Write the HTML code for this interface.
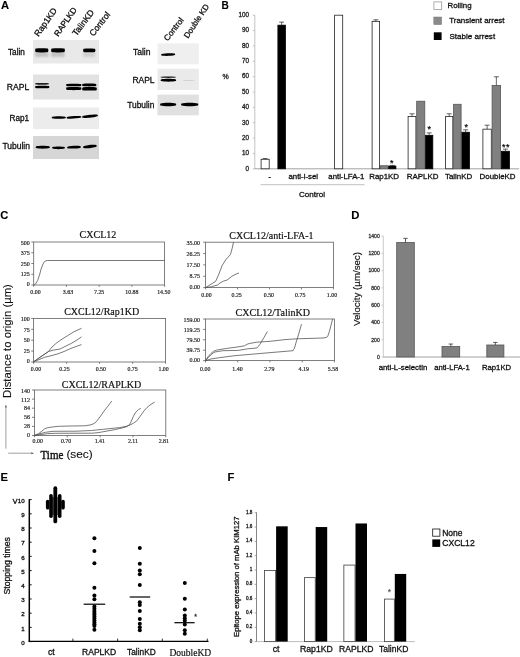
<!DOCTYPE html>
<html><head><meta charset="utf-8"><title>Figure</title>
<style>
html,body{margin:0;padding:0;background:#fff;}
svg{display:block;}
.ss{font-family:"Liberation Sans", sans-serif;}
.sf{font-family:"Liberation Serif", serif;}
</style></head>
<body>
<svg width="520" height="657" viewBox="0 0 520 657">
<defs>
<filter id="b1" x="-20%" y="-100%" width="140%" height="300%"><feGaussianBlur stdDeviation="0.55"/></filter>
<filter id="b2" x="-20%" y="-100%" width="140%" height="300%"><feGaussianBlur stdDeviation="1.2"/></filter>
</defs>
<rect x="0" y="0" width="520" height="657" fill="#fff"/>
<text class="ss" x="0.9" y="8.9" font-size="11.2" text-anchor="start" fill="#000" font-weight="bold" stroke="#000" stroke-width="0.1">A</text>
<text class="ss" x="221.4" y="8.7" font-size="10.1" text-anchor="start" fill="#000" font-weight="bold" stroke="#000" stroke-width="0.1">B</text>
<text class="ss" x="0.2" y="219.4" font-size="11.2" text-anchor="start" fill="#000" font-weight="bold" stroke="#000" stroke-width="0.1">C</text>
<text class="ss" x="351.3" y="218.9" font-size="11.3" text-anchor="start" fill="#000" font-weight="bold" stroke="#000" stroke-width="0.1">D</text>
<text class="ss" x="0.5" y="480.8" font-size="11.2" text-anchor="start" fill="#000" font-weight="bold" stroke="#000" stroke-width="0.1">E</text>
<text class="ss" x="227.4" y="480.8" font-size="11.2" text-anchor="start" fill="#000" font-weight="bold" stroke="#000" stroke-width="0.1">F</text>
<rect x="33.00" y="40.00" width="66.00" height="23.50" fill="#e9e9e9" stroke="none" stroke-width="1"/>
<rect x="33.00" y="74.50" width="66.00" height="25.00" fill="#e2e2e2" stroke="none" stroke-width="1"/>
<rect x="33.00" y="107.50" width="66.00" height="21.50" fill="#ececec" stroke="none" stroke-width="1"/>
<rect x="33.00" y="136.00" width="66.00" height="23.00" fill="#d6d6d6" stroke="none" stroke-width="1"/>
<path d="M35.50,48.60 C38.25,48.06 45.25,48.06 48.00,48.60 Q48.90,50.30 48.00,52.00 C45.25,52.54 38.25,52.54 35.50,52.00 Q34.60,50.30 35.50,48.60 Z" fill="#000" opacity="1" filter="url(#b1)"/>
<path d="M51.50,48.60 C54.36,48.06 61.64,48.06 64.50,48.60 Q65.40,50.30 64.50,52.00 C61.64,52.54 54.36,52.54 51.50,52.00 Q50.60,50.30 51.50,48.60 Z" fill="#000" opacity="1" filter="url(#b1)"/>
<path d="M83.50,48.83 C86.03,48.33 92.47,48.33 95.00,48.83 Q95.90,50.40 95.00,51.97 C92.47,52.47 86.03,52.47 83.50,51.97 Q82.60,50.40 83.50,48.83 Z" fill="#000" opacity="1" filter="url(#b1)"/>
<rect x="35.00" y="51.50" width="13.50" height="5.50" fill="#000" stroke="none" stroke-width="1" opacity="0.16" filter="url(#b2)"/>
<rect x="51.00" y="51.50" width="13.50" height="5.50" fill="#000" stroke="none" stroke-width="1" opacity="0.16" filter="url(#b2)"/>
<rect x="83.00" y="52.00" width="12.00" height="5.00" fill="#000" stroke="none" stroke-width="1" opacity="0.10" filter="url(#b2)"/>
<path d="M35.50,83.16 C38.36,82.90 45.64,82.90 48.50,83.16 Q49.40,83.80 48.50,84.44 C45.64,84.70 38.36,84.70 35.50,84.44 Q34.60,83.80 35.50,83.16 Z" fill="#000" opacity="0.85" filter="url(#b1)"/>
<path d="M35.50,85.96 C38.47,85.54 46.03,85.54 49.00,85.96 Q49.90,87.00 49.00,88.04 C46.03,88.46 38.47,88.46 35.50,88.04 Q34.60,87.00 35.50,85.96 Z" fill="#000" opacity="1" filter="url(#b1)"/>
<path d="M66.50,84.00 C69.69,83.60 77.81,83.60 81.00,84.00 Q81.90,85.00 81.00,86.00 C77.81,86.40 69.69,86.40 66.50,86.00 Q65.60,85.00 66.50,84.00 Z" fill="#000" opacity="1" filter="url(#b1)"/>
<path d="M66.50,87.36 C69.69,86.86 77.81,86.86 81.00,87.36 Q81.90,88.60 81.00,89.84 C77.81,90.34 69.69,90.34 66.50,89.84 Q65.60,88.60 66.50,87.36 Z" fill="#000" opacity="1" filter="url(#b1)"/>
<path d="M82.50,83.92 C85.47,83.49 93.03,83.49 96.00,83.92 Q96.90,85.00 96.00,86.08 C93.03,86.51 85.47,86.51 82.50,86.08 Q81.60,85.00 82.50,83.92 Z" fill="#000" opacity="1" filter="url(#b1)"/>
<path d="M82.50,87.40 C85.58,86.84 93.42,86.84 96.50,87.40 Q97.40,88.80 96.50,90.20 C93.42,90.76 85.58,90.76 82.50,90.20 Q81.60,88.80 82.50,87.40 Z" fill="#000" opacity="1" filter="url(#b1)"/>
<path d="M52.00,116.88 C54.97,116.14 62.53,116.14 65.50,116.88 Q66.40,117.60 65.50,118.31 C62.53,119.06 54.97,119.06 52.00,118.31 Q51.10,117.60 52.00,116.88 Z" fill="#000" opacity="1" filter="url(#b1)"/>
<path d="M67.00,116.98 C70.08,116.07 77.92,115.62 81.00,116.18 Q81.90,116.90 81.00,117.61 C77.92,118.53 70.08,118.98 67.00,118.42 Q66.10,117.70 67.00,116.98 Z" fill="#000" opacity="1" filter="url(#b1)"/>
<path d="M82.50,116.33 C85.80,115.18 94.20,114.28 97.50,114.73 Q98.40,115.50 97.50,116.27 C94.20,117.42 85.80,118.32 82.50,117.87 Q81.60,117.10 82.50,116.33 Z" fill="#000" opacity="1" filter="url(#b1)"/>
<path d="M36.00,146.48 C38.97,145.62 46.53,145.62 49.50,146.48 Q50.40,147.30 49.50,148.12 C46.53,148.98 38.97,148.98 36.00,148.12 Q35.10,147.30 36.00,146.48 Z" fill="#000" opacity="1" filter="url(#b1)"/>
<path d="M52.50,147.03 C55.14,146.23 61.86,146.23 64.50,147.03 Q65.40,147.80 64.50,148.57 C61.86,149.37 55.14,149.37 52.50,148.57 Q51.60,147.80 52.50,147.03 Z" fill="#000" opacity="1" filter="url(#b1)"/>
<path d="M67.50,146.73 C70.36,145.80 77.64,145.46 80.50,146.13 Q81.40,146.90 80.50,147.67 C77.64,148.60 70.36,148.94 67.50,148.27 Q66.60,147.50 67.50,146.73 Z" fill="#000" opacity="1" filter="url(#b1)"/>
<path d="M83.50,146.14 C86.32,144.88 93.48,144.20 96.30,144.94 Q97.20,145.90 96.30,146.86 C93.48,148.12 86.32,148.80 83.50,148.06 Q82.60,147.10 83.50,146.14 Z" fill="#000" opacity="1" filter="url(#b1)"/>
<text class="ss" x="8" y="55" font-size="8.2" text-anchor="start" fill="#111" stroke="#111" stroke-width="0.3">Talin</text>
<text class="ss" x="6.8" y="89.6" font-size="8.6" text-anchor="start" fill="#111" stroke="#111" stroke-width="0.3">RAPL</text>
<text class="ss" x="9.5" y="120.6" font-size="8.2" text-anchor="start" fill="#111" stroke="#111" stroke-width="0.3">Rap1</text>
<text class="ss" x="2.4" y="149.3" font-size="8.5" text-anchor="start" fill="#111" stroke="#111" stroke-width="0.3">Tubulin</text>
<text class="ss" x="38.6" y="37" font-size="8.6" text-anchor="start" fill="#111" transform="rotate(-55 38.6 37)" stroke="#111" stroke-width="0.3">Rap1KD</text>
<text class="ss" x="58.2" y="37" font-size="8.3" text-anchor="start" fill="#111" transform="rotate(-55 58.2 37)" stroke="#111" stroke-width="0.3">RAPLKD</text>
<text class="ss" x="76.5" y="36.5" font-size="8.7" text-anchor="start" fill="#111" transform="rotate(-53 76.5 36.5)" stroke="#111" stroke-width="0.3">TalinKD</text>
<text class="ss" x="93.5" y="36.8" font-size="8.7" text-anchor="start" fill="#111" transform="rotate(-52 93.5 36.8)" stroke="#111" stroke-width="0.3">Control</text>
<rect x="157.50" y="43.30" width="41.30" height="21.00" fill="#efefef" stroke="none" stroke-width="1"/>
<rect x="157.50" y="68.70" width="41.30" height="21.30" fill="#eaeaea" stroke="none" stroke-width="1"/>
<rect x="157.50" y="94.60" width="41.30" height="20.80" fill="#e0e0e0" stroke="none" stroke-width="1"/>
<path d="M161.50,54.08 C164.43,53.17 171.87,52.89 174.80,53.58 Q175.70,54.35 174.80,55.12 C171.87,56.03 164.43,56.31 161.50,55.62 Q160.60,54.85 161.50,54.08 Z" fill="#000" opacity="1" filter="url(#b1)"/>
<path d="M161.00,76.79 C164.19,76.36 172.31,76.36 175.50,76.79 Q176.40,77.20 175.50,77.61 C172.31,78.04 164.19,78.04 161.00,77.61 Q160.10,77.20 161.00,76.79 Z" fill="#000" opacity="0.9" filter="url(#b1)"/>
<path d="M161.00,79.38 C164.26,78.52 172.54,78.52 175.80,79.38 Q176.70,80.20 175.80,81.03 C172.54,81.88 164.26,81.88 161.00,81.03 Q160.10,80.20 161.00,79.38 Z" fill="#000" opacity="1" filter="url(#b1)"/>
<path d="M183.50,80.32 C185.81,80.04 191.69,80.04 194.00,80.32 Q194.90,80.60 194.00,80.88 C191.69,81.16 185.81,81.16 183.50,80.88 Q182.60,80.60 183.50,80.32 Z" fill="#000" opacity="0.1" filter="url(#b1)"/>
<path d="M160.50,103.61 C163.87,102.58 172.43,102.58 175.80,103.61 Q176.70,104.60 175.80,105.59 C172.43,106.62 163.87,106.62 160.50,105.59 Q159.60,104.60 160.50,103.61 Z" fill="#000" opacity="1" filter="url(#b1)"/>
<path d="M181.50,103.61 C185.11,102.58 194.29,102.58 197.90,103.61 Q198.80,104.60 197.90,105.59 C194.29,106.62 185.11,106.62 181.50,105.59 Q180.60,104.60 181.50,103.61 Z" fill="#000" opacity="1" filter="url(#b1)"/>
<text class="ss" x="133" y="54.8" font-size="8.5" text-anchor="start" fill="#111" stroke="#111" stroke-width="0.3">Talin</text>
<text class="ss" x="132.4" y="83" font-size="8.5" text-anchor="start" fill="#111" stroke="#111" stroke-width="0.3">RAPL</text>
<text class="ss" x="127.2" y="107.6" font-size="8.4" text-anchor="start" fill="#111" stroke="#111" stroke-width="0.3">Tubulin</text>
<text class="ss" x="167.8" y="41.5" font-size="8.3" text-anchor="start" fill="#111" transform="rotate(-52.5 167.8 41.5)" stroke="#111" stroke-width="0.3">Control</text>
<text class="ss" x="188" y="38.8" font-size="8.0" text-anchor="start" fill="#111" transform="rotate(-56.5 188 38.8)" stroke="#111" stroke-width="0.3">Double KD</text>
<line x1="254.80" y1="15.00" x2="254.80" y2="168.80" stroke="#b4b4b4" stroke-width="0.8"/>
<line x1="252.80" y1="168.80" x2="254.80" y2="168.80" stroke="#b4b4b4" stroke-width="0.8"/>
<text class="ss" x="249.0" y="170.60000000000002" font-size="6.3" text-anchor="end" fill="#222" stroke="#222" stroke-width="0.3">0</text>
<line x1="252.80" y1="153.44" x2="254.80" y2="153.44" stroke="#b4b4b4" stroke-width="0.8"/>
<text class="ss" x="249.0" y="155.24" font-size="6.3" text-anchor="end" fill="#222" stroke="#222" stroke-width="0.3">10</text>
<line x1="252.80" y1="138.08" x2="254.80" y2="138.08" stroke="#b4b4b4" stroke-width="0.8"/>
<text class="ss" x="249.0" y="139.88000000000002" font-size="6.3" text-anchor="end" fill="#222" stroke="#222" stroke-width="0.3">20</text>
<line x1="252.80" y1="122.72" x2="254.80" y2="122.72" stroke="#b4b4b4" stroke-width="0.8"/>
<text class="ss" x="249.0" y="124.52000000000001" font-size="6.3" text-anchor="end" fill="#222" stroke="#222" stroke-width="0.3">30</text>
<line x1="252.80" y1="107.36" x2="254.80" y2="107.36" stroke="#b4b4b4" stroke-width="0.8"/>
<text class="ss" x="249.0" y="109.16000000000001" font-size="6.3" text-anchor="end" fill="#222" stroke="#222" stroke-width="0.3">40</text>
<line x1="252.80" y1="92.00" x2="254.80" y2="92.00" stroke="#b4b4b4" stroke-width="0.8"/>
<text class="ss" x="249.0" y="93.80000000000001" font-size="6.3" text-anchor="end" fill="#222" stroke="#222" stroke-width="0.3">50</text>
<line x1="252.80" y1="76.64" x2="254.80" y2="76.64" stroke="#b4b4b4" stroke-width="0.8"/>
<text class="ss" x="249.0" y="78.44000000000001" font-size="6.3" text-anchor="end" fill="#222" stroke="#222" stroke-width="0.3">60</text>
<line x1="252.80" y1="61.28" x2="254.80" y2="61.28" stroke="#b4b4b4" stroke-width="0.8"/>
<text class="ss" x="249.0" y="63.08000000000001" font-size="6.3" text-anchor="end" fill="#222" stroke="#222" stroke-width="0.3">70</text>
<line x1="252.80" y1="45.92" x2="254.80" y2="45.92" stroke="#b4b4b4" stroke-width="0.8"/>
<text class="ss" x="249.0" y="47.72000000000001" font-size="6.3" text-anchor="end" fill="#222" stroke="#222" stroke-width="0.3">80</text>
<line x1="252.80" y1="30.56" x2="254.80" y2="30.56" stroke="#b4b4b4" stroke-width="0.8"/>
<text class="ss" x="249.0" y="32.36" font-size="6.3" text-anchor="end" fill="#222" stroke="#222" stroke-width="0.3">90</text>
<line x1="252.80" y1="15.20" x2="254.80" y2="15.20" stroke="#b4b4b4" stroke-width="0.8"/>
<text class="ss" x="249.0" y="17.000000000000018" font-size="6.3" text-anchor="end" fill="#222" stroke="#222" stroke-width="0.3">100</text>
<text class="ss" x="222.4" y="78.7" font-size="7" text-anchor="start" fill="#222" stroke="#222" stroke-width="0.3">%</text>
<line x1="254.80" y1="168.80" x2="519.00" y2="168.80" stroke="#8a8a8a" stroke-width="0.8"/>
<rect x="261.10" y="159.28" width="8.10" height="9.52" fill="#fff" stroke="#222" stroke-width="0.8"/>
<line x1="265.15" y1="159.28" x2="265.15" y2="158.51" stroke="#222" stroke-width="0.7"/>
<line x1="262.65" y1="158.51" x2="267.65" y2="158.51" stroke="#222" stroke-width="0.7"/>
<rect x="277.90" y="25.18" width="7.50" height="143.62" fill="#000" stroke="#000" stroke-width="0.8"/>
<line x1="281.65" y1="25.18" x2="281.65" y2="22.11" stroke="#222" stroke-width="0.7"/>
<line x1="279.15" y1="22.11" x2="284.15" y2="22.11" stroke="#222" stroke-width="0.7"/>
<rect x="334.60" y="15.20" width="8.10" height="153.60" fill="#fff" stroke="#222" stroke-width="0.8"/>
<rect x="372.10" y="21.34" width="7.50" height="147.46" fill="#fff" stroke="#222" stroke-width="0.8"/>
<line x1="375.85" y1="21.34" x2="375.85" y2="19.81" stroke="#222" stroke-width="0.7"/>
<line x1="373.35" y1="19.81" x2="378.35" y2="19.81" stroke="#222" stroke-width="0.7"/>
<rect x="380.40" y="165.73" width="7.50" height="3.07" fill="#808080" stroke="#555" stroke-width="0.8"/>
<rect x="388.70" y="166.04" width="7.20" height="2.76" fill="#000" stroke="#000" stroke-width="0.8"/>
<line x1="392.30" y1="166.04" x2="392.30" y2="165.42" stroke="#222" stroke-width="0.7"/>
<line x1="389.80" y1="165.42" x2="394.80" y2="165.42" stroke="#222" stroke-width="0.7"/>
<rect x="408.10" y="116.58" width="7.80" height="52.22" fill="#fff" stroke="#222" stroke-width="0.8"/>
<line x1="412.00" y1="116.58" x2="412.00" y2="113.81" stroke="#222" stroke-width="0.7"/>
<line x1="409.50" y1="113.81" x2="414.50" y2="113.81" stroke="#222" stroke-width="0.7"/>
<rect x="416.70" y="101.22" width="8.10" height="67.58" fill="#808080" stroke="#555" stroke-width="0.8"/>
<rect x="425.60" y="135.32" width="7.20" height="33.48" fill="#000" stroke="#000" stroke-width="0.8"/>
<line x1="429.20" y1="135.32" x2="429.20" y2="132.86" stroke="#222" stroke-width="0.7"/>
<line x1="426.70" y1="132.86" x2="431.70" y2="132.86" stroke="#222" stroke-width="0.7"/>
<rect x="445.60" y="116.58" width="7.20" height="52.22" fill="#fff" stroke="#222" stroke-width="0.8"/>
<line x1="449.20" y1="116.58" x2="449.20" y2="113.81" stroke="#222" stroke-width="0.7"/>
<line x1="446.70" y1="113.81" x2="451.70" y2="113.81" stroke="#222" stroke-width="0.7"/>
<rect x="453.60" y="104.29" width="7.50" height="64.51" fill="#808080" stroke="#555" stroke-width="0.8"/>
<rect x="461.90" y="132.24" width="7.50" height="36.56" fill="#000" stroke="#000" stroke-width="0.8"/>
<line x1="465.65" y1="132.24" x2="465.65" y2="129.79" stroke="#222" stroke-width="0.7"/>
<line x1="463.15" y1="129.79" x2="468.15" y2="129.79" stroke="#222" stroke-width="0.7"/>
<rect x="482.90" y="129.17" width="8.40" height="39.63" fill="#fff" stroke="#222" stroke-width="0.8"/>
<line x1="487.10" y1="129.17" x2="487.10" y2="125.18" stroke="#222" stroke-width="0.7"/>
<line x1="484.60" y1="125.18" x2="489.60" y2="125.18" stroke="#222" stroke-width="0.7"/>
<rect x="492.10" y="85.40" width="8.50" height="83.40" fill="#808080" stroke="#555" stroke-width="0.8"/>
<line x1="496.35" y1="85.40" x2="496.35" y2="76.79" stroke="#222" stroke-width="0.7"/>
<line x1="493.85" y1="76.79" x2="498.85" y2="76.79" stroke="#222" stroke-width="0.7"/>
<rect x="501.40" y="151.29" width="8.00" height="17.51" fill="#000" stroke="#000" stroke-width="0.8"/>
<line x1="505.40" y1="151.29" x2="505.40" y2="149.14" stroke="#222" stroke-width="0.7"/>
<line x1="502.90" y1="149.14" x2="507.90" y2="149.14" stroke="#222" stroke-width="0.7"/>
<text class="ss" x="391.8" y="166.0" font-size="9" text-anchor="middle" fill="#000" stroke="#000" stroke-width="0.2">*</text>
<text class="ss" x="429.2" y="132.3" font-size="9" text-anchor="middle" fill="#000" stroke="#000" stroke-width="0.2">*</text>
<text class="ss" x="466.2" y="130.2" font-size="9" text-anchor="middle" fill="#000" stroke="#000" stroke-width="0.2">*</text>
<text class="ss" x="503.8" y="150.2" font-size="9" text-anchor="middle" fill="#000" stroke="#000" stroke-width="0.2">*</text>
<text class="ss" x="507.8" y="150.2" font-size="9" text-anchor="middle" fill="#000" stroke="#000" stroke-width="0.2">*</text>
<text class="ss" x="269.6" y="179" font-size="7" text-anchor="middle" fill="#111" font-weight="bold" stroke="#111" stroke-width="0.3">-</text>
<text class="ss" x="288.5" y="179.4" font-size="7.8" text-anchor="start" fill="#111" stroke="#111" stroke-width="0.3">anti-l-sel</text>
<text class="ss" x="328.3" y="179.4" font-size="7.8" text-anchor="start" fill="#111" stroke="#111" stroke-width="0.3">anti-LFA-1</text>
<text class="ss" x="369.2" y="179.4" font-size="7.9" text-anchor="start" fill="#111" stroke="#111" stroke-width="0.3">Rap1KD</text>
<text class="ss" x="406.8" y="179.4" font-size="7.9" text-anchor="start" fill="#111" stroke="#111" stroke-width="0.3">RAPLKD</text>
<text class="ss" x="445" y="179.4" font-size="7.9" text-anchor="start" fill="#111" stroke="#111" stroke-width="0.3">TalinKD</text>
<text class="ss" x="479.6" y="179.4" font-size="7.9" text-anchor="start" fill="#111" stroke="#111" stroke-width="0.3">DoubleKD</text>
<line x1="260.50" y1="184.70" x2="364.50" y2="184.70" stroke="#b0b0b0" stroke-width="0.8"/>
<text class="ss" x="298.9" y="197" font-size="8.1" text-anchor="start" fill="#111" stroke="#111" stroke-width="0.3">Control</text>
<rect x="433.90" y="1.90" width="7.80" height="7.60" fill="#fff" stroke="#999" stroke-width="0.8"/>
<rect x="433.80" y="17.00" width="7.80" height="7.60" fill="#8a8a8a" stroke="#777" stroke-width="0.5"/>
<rect x="433.80" y="32.30" width="7.80" height="7.70" fill="#000" stroke="none" stroke-width="1"/>
<text class="ss" x="447.5" y="8.2" font-size="7.9" text-anchor="start" fill="#111" stroke="#111" stroke-width="0.3">Rolling</text>
<text class="ss" x="449.2" y="22.9" font-size="7.95" text-anchor="start" fill="#111" stroke="#111" stroke-width="0.3">Transient arrest</text>
<text class="ss" x="449.5" y="38.9" font-size="8.05" text-anchor="start" fill="#111" stroke="#111" stroke-width="0.3">Stable arrest</text>
<rect x="33.70" y="242.00" width="130.90" height="43.00" fill="none" stroke="#606060" stroke-width="0.8"/>
<line x1="31.30" y1="242.00" x2="33.70" y2="242.00" stroke="#606060" stroke-width="0.8"/>
<text class="sf" x="29.800000000000004" y="244.7525" font-size="6.0" text-anchor="end" fill="#222" stroke="#222" stroke-width="0.18">500</text>
<line x1="31.30" y1="252.75" x2="33.70" y2="252.75" stroke="#606060" stroke-width="0.8"/>
<text class="sf" x="29.800000000000004" y="255.12625" font-size="6.0" text-anchor="end" fill="#222" stroke="#222" stroke-width="0.18">375</text>
<line x1="31.30" y1="263.50" x2="33.70" y2="263.50" stroke="#606060" stroke-width="0.8"/>
<text class="sf" x="29.800000000000004" y="265.5" font-size="6.0" text-anchor="end" fill="#222" stroke="#222" stroke-width="0.18">250</text>
<line x1="31.30" y1="274.25" x2="33.70" y2="274.25" stroke="#606060" stroke-width="0.8"/>
<text class="sf" x="29.800000000000004" y="275.87375" font-size="6.0" text-anchor="end" fill="#222" stroke="#222" stroke-width="0.18">125</text>
<line x1="31.30" y1="285.00" x2="33.70" y2="285.00" stroke="#606060" stroke-width="0.8"/>
<text class="sf" x="29.800000000000004" y="286.2475" font-size="6.0" text-anchor="end" fill="#222" stroke="#222" stroke-width="0.18">0</text>
<line x1="33.70" y1="285.00" x2="33.70" y2="286.80" stroke="#606060" stroke-width="0.8"/>
<text class="sf" x="35.50000000000001" y="293.8" font-size="5.9" text-anchor="middle" fill="#222" stroke="#222" stroke-width="0.18">0.00</text>
<line x1="66.42" y1="285.00" x2="66.42" y2="286.80" stroke="#606060" stroke-width="0.8"/>
<text class="sf" x="68.02499999999999" y="293.8" font-size="5.9" text-anchor="middle" fill="#222" stroke="#222" stroke-width="0.18">3.63</text>
<line x1="99.15" y1="285.00" x2="99.15" y2="286.80" stroke="#606060" stroke-width="0.8"/>
<text class="sf" x="99.14999999999999" y="293.8" font-size="5.9" text-anchor="middle" fill="#222" stroke="#222" stroke-width="0.18">7.25</text>
<line x1="131.88" y1="285.00" x2="131.88" y2="286.80" stroke="#606060" stroke-width="0.8"/>
<text class="sf" x="131.875" y="293.8" font-size="5.9" text-anchor="middle" fill="#222" stroke="#222" stroke-width="0.18">10.88</text>
<line x1="164.60" y1="285.00" x2="164.60" y2="286.80" stroke="#606060" stroke-width="0.8"/>
<text class="sf" x="163.79999999999995" y="293.8" font-size="5.9" text-anchor="middle" fill="#222" stroke="#222" stroke-width="0.18">14.50</text>
<text class="sf" x="79.6" y="238.2" font-size="10" text-anchor="start" fill="#111" stroke="#111" stroke-width="0.18">CXCL12</text>
<polyline points="33.7,285.0 35.5,284.0 37.7,280.4 39.5,275.0 41.1,269.0 43.0,264.0 44.6,261.5 46.0,260.7 47.2,260.5 164.6,260.5" fill="none" stroke="#4c4c4c" stroke-width="0.75" stroke-linejoin="round"/>
<rect x="205.60" y="242.20" width="127.80" height="45.40" fill="none" stroke="#606060" stroke-width="0.8"/>
<line x1="203.20" y1="242.20" x2="205.60" y2="242.20" stroke="#606060" stroke-width="0.8"/>
<text class="sf" x="200.1" y="244.9945" font-size="6.0" text-anchor="end" fill="#222" stroke="#222" stroke-width="0.18">35.00</text>
<line x1="203.20" y1="253.55" x2="205.60" y2="253.55" stroke="#606060" stroke-width="0.8"/>
<text class="sf" x="200.1" y="255.94725" font-size="6.0" text-anchor="end" fill="#222" stroke="#222" stroke-width="0.18">26.25</text>
<line x1="203.20" y1="264.90" x2="205.60" y2="264.90" stroke="#606060" stroke-width="0.8"/>
<text class="sf" x="200.1" y="266.9" font-size="6.0" text-anchor="end" fill="#222" stroke="#222" stroke-width="0.18">17.50</text>
<line x1="203.20" y1="276.25" x2="205.60" y2="276.25" stroke="#606060" stroke-width="0.8"/>
<text class="sf" x="200.1" y="277.85275" font-size="6.0" text-anchor="end" fill="#222" stroke="#222" stroke-width="0.18">8.75</text>
<line x1="203.20" y1="287.60" x2="205.60" y2="287.60" stroke="#606060" stroke-width="0.8"/>
<text class="sf" x="200.1" y="288.8055" font-size="6.0" text-anchor="end" fill="#222" stroke="#222" stroke-width="0.18">0.00</text>
<line x1="205.60" y1="287.60" x2="205.60" y2="289.40" stroke="#606060" stroke-width="0.8"/>
<text class="sf" x="206.49999999999997" y="296.70000000000005" font-size="5.9" text-anchor="middle" fill="#222" stroke="#222" stroke-width="0.18">0.00</text>
<line x1="237.55" y1="287.60" x2="237.55" y2="289.40" stroke="#606060" stroke-width="0.8"/>
<text class="sf" x="236.64999999999998" y="296.70000000000005" font-size="5.9" text-anchor="middle" fill="#222" stroke="#222" stroke-width="0.18">0.25</text>
<line x1="269.50" y1="287.60" x2="269.50" y2="289.40" stroke="#606060" stroke-width="0.8"/>
<text class="sf" x="268.9" y="296.70000000000005" font-size="5.9" text-anchor="middle" fill="#222" stroke="#222" stroke-width="0.18">0.50</text>
<line x1="301.45" y1="287.60" x2="301.45" y2="289.40" stroke="#606060" stroke-width="0.8"/>
<text class="sf" x="300.25" y="296.70000000000005" font-size="5.9" text-anchor="middle" fill="#222" stroke="#222" stroke-width="0.18">0.75</text>
<line x1="333.40" y1="287.60" x2="333.40" y2="289.40" stroke="#606060" stroke-width="0.8"/>
<text class="sf" x="332.0" y="296.70000000000005" font-size="5.9" text-anchor="middle" fill="#222" stroke="#222" stroke-width="0.18">1.00</text>
<text class="sf" x="229.3" y="239.3" font-size="10" text-anchor="start" fill="#111" stroke="#111" stroke-width="0.18">CXCL12/anti-LFA-1</text>
<polyline points="205.6,287.6 215.6,281.4 218.5,275.0 222.3,265.2 226.0,259.5 230.4,254.6 232.0,249.0 233.5,242.2" fill="none" stroke="#4c4c4c" stroke-width="0.75" stroke-linejoin="round"/>
<polyline points="205.6,287.6 211.0,286.8 217.5,285.0 220.0,283.0 223.3,281.2 227.1,280.0 231.9,276.3 235.0,274.6 239.0,272.9" fill="none" stroke="#4c4c4c" stroke-width="0.75" stroke-linejoin="round"/>
<rect x="33.60" y="318.40" width="132.00" height="43.60" fill="none" stroke="#606060" stroke-width="0.8"/>
<line x1="31.20" y1="318.40" x2="33.60" y2="318.40" stroke="#606060" stroke-width="0.8"/>
<text class="sf" x="29.700000000000003" y="321.16299999999995" font-size="6.0" text-anchor="end" fill="#222" stroke="#222" stroke-width="0.18">100</text>
<line x1="31.20" y1="329.30" x2="33.60" y2="329.30" stroke="#606060" stroke-width="0.8"/>
<text class="sf" x="29.700000000000003" y="331.68149999999997" font-size="6.0" text-anchor="end" fill="#222" stroke="#222" stroke-width="0.18">75</text>
<line x1="31.20" y1="340.20" x2="33.60" y2="340.20" stroke="#606060" stroke-width="0.8"/>
<text class="sf" x="29.700000000000003" y="342.2" font-size="6.0" text-anchor="end" fill="#222" stroke="#222" stroke-width="0.18">50</text>
<line x1="31.20" y1="351.10" x2="33.60" y2="351.10" stroke="#606060" stroke-width="0.8"/>
<text class="sf" x="29.700000000000003" y="352.7185" font-size="6.0" text-anchor="end" fill="#222" stroke="#222" stroke-width="0.18">25</text>
<line x1="31.20" y1="362.00" x2="33.60" y2="362.00" stroke="#606060" stroke-width="0.8"/>
<text class="sf" x="29.700000000000003" y="363.237" font-size="6.0" text-anchor="end" fill="#222" stroke="#222" stroke-width="0.18">0</text>
<line x1="33.60" y1="362.00" x2="33.60" y2="363.80" stroke="#606060" stroke-width="0.8"/>
<text class="sf" x="36.00000000000001" y="371.3" font-size="5.9" text-anchor="middle" fill="#222" stroke="#222" stroke-width="0.18">0.00</text>
<line x1="66.60" y1="362.00" x2="66.60" y2="363.80" stroke="#606060" stroke-width="0.8"/>
<text class="sf" x="64.5" y="371.3" font-size="5.9" text-anchor="middle" fill="#222" stroke="#222" stroke-width="0.18">0.25</text>
<line x1="99.60" y1="362.00" x2="99.60" y2="363.80" stroke="#606060" stroke-width="0.8"/>
<text class="sf" x="100.8" y="371.3" font-size="5.9" text-anchor="middle" fill="#222" stroke="#222" stroke-width="0.18">0.50</text>
<line x1="132.60" y1="362.00" x2="132.60" y2="363.80" stroke="#606060" stroke-width="0.8"/>
<text class="sf" x="132.6" y="371.3" font-size="5.9" text-anchor="middle" fill="#222" stroke="#222" stroke-width="0.18">0.75</text>
<line x1="165.60" y1="362.00" x2="165.60" y2="363.80" stroke="#606060" stroke-width="0.8"/>
<text class="sf" x="163.6" y="371.3" font-size="5.9" text-anchor="middle" fill="#222" stroke="#222" stroke-width="0.18">1.00</text>
<text class="sf" x="64.2" y="314.5" font-size="10" text-anchor="start" fill="#111" stroke="#111" stroke-width="0.18">CXCL12/Rap1KD</text>
<polyline points="33.6,361.8 41.0,356.6 48.5,351.5 52.0,347.0 56.2,343.3 61.0,339.8 67.7,335.6 74.0,331.7 81.5,328.3" fill="none" stroke="#4c4c4c" stroke-width="0.75" stroke-linejoin="round"/>
<polyline points="33.6,361.8 41.0,356.6 48.5,351.5 54.0,350.0 60.0,349.0 66.0,346.0 71.5,343.3 77.0,340.0 81.5,336.9" fill="none" stroke="#4c4c4c" stroke-width="0.75" stroke-linejoin="round"/>
<polyline points="33.6,361.8 44.6,357.3 52.0,355.5 58.0,353.8 64.0,351.5 69.6,349.0 76.0,346.5 81.5,344.6" fill="none" stroke="#4c4c4c" stroke-width="0.75" stroke-linejoin="round"/>
<rect x="205.50" y="319.00" width="128.90" height="41.60" fill="none" stroke="#606060" stroke-width="0.8"/>
<line x1="203.10" y1="319.00" x2="205.50" y2="319.00" stroke="#606060" stroke-width="0.8"/>
<text class="sf" x="200.1" y="321.728" font-size="6.0" text-anchor="end" fill="#222" stroke="#222" stroke-width="0.18">159.00</text>
<line x1="203.10" y1="329.40" x2="205.50" y2="329.40" stroke="#606060" stroke-width="0.8"/>
<text class="sf" x="200.1" y="331.76399999999995" font-size="6.0" text-anchor="end" fill="#222" stroke="#222" stroke-width="0.18">119.25</text>
<line x1="203.10" y1="339.80" x2="205.50" y2="339.80" stroke="#606060" stroke-width="0.8"/>
<text class="sf" x="200.1" y="341.8" font-size="6.0" text-anchor="end" fill="#222" stroke="#222" stroke-width="0.18">79.50</text>
<line x1="203.10" y1="350.20" x2="205.50" y2="350.20" stroke="#606060" stroke-width="0.8"/>
<text class="sf" x="200.1" y="351.83600000000007" font-size="6.0" text-anchor="end" fill="#222" stroke="#222" stroke-width="0.18">39.75</text>
<line x1="203.10" y1="360.60" x2="205.50" y2="360.60" stroke="#606060" stroke-width="0.8"/>
<text class="sf" x="200.1" y="361.872" font-size="6.0" text-anchor="end" fill="#222" stroke="#222" stroke-width="0.18">0.00</text>
<line x1="205.50" y1="360.60" x2="205.50" y2="362.40" stroke="#606060" stroke-width="0.8"/>
<text class="sf" x="205.2" y="370.50000000000006" font-size="5.9" text-anchor="middle" fill="#222" stroke="#222" stroke-width="0.18">0.00</text>
<line x1="237.72" y1="360.60" x2="237.72" y2="362.40" stroke="#606060" stroke-width="0.8"/>
<text class="sf" x="237.42499999999998" y="370.50000000000006" font-size="5.9" text-anchor="middle" fill="#222" stroke="#222" stroke-width="0.18">1.40</text>
<line x1="269.95" y1="360.60" x2="269.95" y2="362.40" stroke="#606060" stroke-width="0.8"/>
<text class="sf" x="269.34999999999997" y="370.50000000000006" font-size="5.9" text-anchor="middle" fill="#222" stroke="#222" stroke-width="0.18">2.79</text>
<line x1="302.17" y1="360.60" x2="302.17" y2="362.40" stroke="#606060" stroke-width="0.8"/>
<text class="sf" x="303.67499999999995" y="370.50000000000006" font-size="5.9" text-anchor="middle" fill="#222" stroke="#222" stroke-width="0.18">4.19</text>
<line x1="334.40" y1="360.60" x2="334.40" y2="362.40" stroke="#606060" stroke-width="0.8"/>
<text class="sf" x="333.0" y="370.50000000000006" font-size="5.9" text-anchor="middle" fill="#222" stroke="#222" stroke-width="0.18">5.58</text>
<text class="sf" x="235.6" y="315.5" font-size="10" text-anchor="start" fill="#111" stroke="#111" stroke-width="0.18">CXCL12/TalinKD</text>
<polyline points="205.5,360.6 208.0,356.8 210.8,353.5 213.5,351.3 216.9,350.0 226.2,348.5 236.0,347.2 244.6,345.8 247.0,344.3 249.2,343.5 256.9,342.2 270.0,341.3 285.0,339.6 297.0,338.8 323.0,338.0 326.0,337.5 327.7,336.5 329.5,331.0 332.6,319.0" fill="none" stroke="#4c4c4c" stroke-width="0.75" stroke-linejoin="round"/>
<polyline points="205.5,360.6 208.0,357.8 210.8,355.0 213.0,353.0 215.4,351.9 223.0,350.7 238.5,350.4 243.0,349.6 247.7,348.8 256.9,348.0 258.2,346.5 260.0,344.2 264.0,337.5 267.4,331.5" fill="none" stroke="#4c4c4c" stroke-width="0.75" stroke-linejoin="round"/>
<polyline points="205.5,360.6 211.0,359.0 218.5,357.8 233.8,355.8 260.0,353.5 280.0,351.8 293.0,350.7 294.5,348.0 296.2,342.0 299.0,333.0 301.5,324.2" fill="none" stroke="#4c4c4c" stroke-width="0.75" stroke-linejoin="round"/>
<rect x="34.40" y="390.00" width="131.40" height="45.50" fill="none" stroke="#606060" stroke-width="0.8"/>
<line x1="32.00" y1="390.00" x2="34.40" y2="390.00" stroke="#606060" stroke-width="0.8"/>
<text class="sf" x="29.9" y="392.79625" font-size="6.0" text-anchor="end" fill="#222" stroke="#222" stroke-width="0.18">140</text>
<line x1="32.00" y1="399.10" x2="34.40" y2="399.10" stroke="#606060" stroke-width="0.8"/>
<text class="sf" x="29.9" y="401.57775000000004" font-size="6.0" text-anchor="end" fill="#222" stroke="#222" stroke-width="0.18">112</text>
<line x1="32.00" y1="408.20" x2="34.40" y2="408.20" stroke="#606060" stroke-width="0.8"/>
<text class="sf" x="29.9" y="410.35925" font-size="6.0" text-anchor="end" fill="#222" stroke="#222" stroke-width="0.18">84</text>
<line x1="32.00" y1="417.30" x2="34.40" y2="417.30" stroke="#606060" stroke-width="0.8"/>
<text class="sf" x="29.9" y="419.14075" font-size="6.0" text-anchor="end" fill="#222" stroke="#222" stroke-width="0.18">56</text>
<line x1="32.00" y1="426.40" x2="34.40" y2="426.40" stroke="#606060" stroke-width="0.8"/>
<text class="sf" x="29.9" y="427.92224999999996" font-size="6.0" text-anchor="end" fill="#222" stroke="#222" stroke-width="0.18">28</text>
<line x1="32.00" y1="435.50" x2="34.40" y2="435.50" stroke="#606060" stroke-width="0.8"/>
<text class="sf" x="29.9" y="436.70375" font-size="6.0" text-anchor="end" fill="#222" stroke="#222" stroke-width="0.18">0</text>
<line x1="34.40" y1="435.50" x2="34.40" y2="437.30" stroke="#606060" stroke-width="0.8"/>
<text class="sf" x="37.7" y="442.70000000000005" font-size="5.9" text-anchor="middle" fill="#222" stroke="#222" stroke-width="0.18">0.00</text>
<line x1="67.25" y1="435.50" x2="67.25" y2="437.30" stroke="#606060" stroke-width="0.8"/>
<text class="sf" x="66.05" y="442.70000000000005" font-size="5.9" text-anchor="middle" fill="#222" stroke="#222" stroke-width="0.18">0.70</text>
<line x1="100.10" y1="435.50" x2="100.10" y2="437.30" stroke="#606060" stroke-width="0.8"/>
<text class="sf" x="99.8" y="442.70000000000005" font-size="5.9" text-anchor="middle" fill="#222" stroke="#222" stroke-width="0.18">1.41</text>
<line x1="132.95" y1="435.50" x2="132.95" y2="437.30" stroke="#606060" stroke-width="0.8"/>
<text class="sf" x="132.95000000000002" y="442.70000000000005" font-size="5.9" text-anchor="middle" fill="#222" stroke="#222" stroke-width="0.18">2.11</text>
<line x1="165.80" y1="435.50" x2="165.80" y2="437.30" stroke="#606060" stroke-width="0.8"/>
<text class="sf" x="163.8" y="442.70000000000005" font-size="5.9" text-anchor="middle" fill="#222" stroke="#222" stroke-width="0.18">2.81</text>
<text class="sf" x="61.8" y="387.8" font-size="10" text-anchor="start" fill="#111" stroke="#111" stroke-width="0.18">CXCL12/RAPLKD</text>
<polyline points="34.4,435.5 38.5,433.8 42.0,431.0 45.0,428.6 47.3,427.8 52.0,427.0 58.8,426.3 70.0,426.0 84.8,425.8 90.0,425.0 92.8,424.1 94.9,423.0 97.1,420.7 100.7,416.0 104.0,411.1 107.9,406.2 111.8,401.0" fill="none" stroke="#4c4c4c" stroke-width="0.75" stroke-linejoin="round"/>
<polyline points="34.4,435.5 40.0,434.7 47.3,433.7 55.0,433.3 91.5,433.2 98.0,432.7 102.3,431.9 110.0,430.5 114.4,429.7 122.0,428.0 126.5,426.7 128.8,425.3 130.3,423.3 131.8,420.0 133.4,416.3 135.2,413.0 136.9,411.1 138.5,409.6 140.7,408.4" fill="none" stroke="#4c4c4c" stroke-width="0.75" stroke-linejoin="round"/>
<polyline points="34.4,435.5 40.0,433.7 45.4,432.3 53.0,431.3 76.0,431.2 91.5,430.5 102.3,429.4 110.0,428.6 119.6,427.6 126.0,426.4 130.0,425.0 133.5,423.2 136.9,420.7 140.0,416.5 143.8,411.1 147.0,407.5 149.9,405.1 154.7,402.0" fill="none" stroke="#4c4c4c" stroke-width="0.75" stroke-linejoin="round"/>
<text class="ss" x="10.6" y="398" font-size="11.3" text-anchor="start" fill="#111" transform="rotate(-90 10.6 398)" stroke="#111" stroke-width="0.12">Distance to origin (µm)</text>
<line x1="5.90" y1="405.50" x2="5.90" y2="448.70" stroke="#777" stroke-width="0.7"/>
<path d="M4.9,407.5 L5.9,404.8 L6.9,407.5 Z" fill="#666"/>
<line x1="8.20" y1="453.20" x2="32.00" y2="453.20" stroke="#777" stroke-width="0.7"/>
<path d="M31.4,452.2 L34,453.2 L31.4,454.2 Z" fill="#555"/>
<text class="sf" transform="translate(40.5,458.6) scale(0.84,1)" font-size="13.2" fill="#111" stroke="#111" stroke-width="0.4">Time</text>
<text class="ss" x="66.4" y="457.6" font-size="11.8" text-anchor="start" fill="#111" stroke="#111" stroke-width="0.12">(sec)</text>
<line x1="383.30" y1="236.00" x2="383.30" y2="357.00" stroke="#bdbdbd" stroke-width="0.8"/>
<line x1="381.50" y1="357.00" x2="383.30" y2="357.00" stroke="#bdbdbd" stroke-width="0.8"/>
<text class="ss" x="379.7" y="358.8" font-size="5" text-anchor="end" fill="#333" stroke="#333" stroke-width="0.3">0</text>
<line x1="381.50" y1="339.72" x2="383.30" y2="339.72" stroke="#bdbdbd" stroke-width="0.8"/>
<text class="ss" x="379.7" y="341.52000000000004" font-size="5" text-anchor="end" fill="#333" stroke="#333" stroke-width="0.3">200</text>
<line x1="381.50" y1="322.44" x2="383.30" y2="322.44" stroke="#bdbdbd" stroke-width="0.8"/>
<text class="ss" x="379.7" y="324.24" font-size="5" text-anchor="end" fill="#333" stroke="#333" stroke-width="0.3">400</text>
<line x1="381.50" y1="305.16" x2="383.30" y2="305.16" stroke="#bdbdbd" stroke-width="0.8"/>
<text class="ss" x="379.7" y="306.96" font-size="5" text-anchor="end" fill="#333" stroke="#333" stroke-width="0.3">600</text>
<line x1="381.50" y1="287.88" x2="383.30" y2="287.88" stroke="#bdbdbd" stroke-width="0.8"/>
<text class="ss" x="379.7" y="289.68" font-size="5" text-anchor="end" fill="#333" stroke="#333" stroke-width="0.3">800</text>
<line x1="381.50" y1="270.60" x2="383.30" y2="270.60" stroke="#bdbdbd" stroke-width="0.8"/>
<text class="ss" x="379.7" y="272.40000000000003" font-size="5" text-anchor="end" fill="#333" stroke="#333" stroke-width="0.3">1000</text>
<line x1="381.50" y1="253.32" x2="383.30" y2="253.32" stroke="#bdbdbd" stroke-width="0.8"/>
<text class="ss" x="379.7" y="255.12" font-size="5" text-anchor="end" fill="#333" stroke="#333" stroke-width="0.3">1200</text>
<line x1="381.50" y1="236.04" x2="383.30" y2="236.04" stroke="#bdbdbd" stroke-width="0.8"/>
<text class="ss" x="379.7" y="237.84" font-size="5" text-anchor="end" fill="#333" stroke="#333" stroke-width="0.3">1400</text>
<line x1="383.30" y1="357.00" x2="520.00" y2="357.00" stroke="#8a8a8a" stroke-width="0.8"/>
<rect x="396.70" y="242.52" width="17.60" height="114.48" fill="#808080" stroke="#555" stroke-width="0.8"/>
<line x1="405.50" y1="242.52" x2="405.50" y2="238.37" stroke="#333" stroke-width="0.8"/>
<line x1="403.30" y1="238.37" x2="407.70" y2="238.37" stroke="#333" stroke-width="0.8"/>
<rect x="442.00" y="346.46" width="17.70" height="10.54" fill="#808080" stroke="#555" stroke-width="0.8"/>
<line x1="450.85" y1="346.46" x2="450.85" y2="344.04" stroke="#333" stroke-width="0.8"/>
<line x1="448.65" y1="344.04" x2="453.05" y2="344.04" stroke="#333" stroke-width="0.8"/>
<rect x="486.80" y="344.99" width="17.10" height="12.01" fill="#808080" stroke="#555" stroke-width="0.8"/>
<line x1="495.35" y1="344.99" x2="495.35" y2="342.40" stroke="#333" stroke-width="0.8"/>
<line x1="493.15" y1="342.40" x2="497.55" y2="342.40" stroke="#333" stroke-width="0.8"/>
<text class="ss" x="378.7" y="370" font-size="7.8" text-anchor="start" fill="#111" stroke="#111" stroke-width="0.3">anti-L-selectin</text>
<text class="ss" x="434.2" y="370" font-size="7.7" text-anchor="start" fill="#111" stroke="#111" stroke-width="0.3">anti-LFA-1</text>
<text class="ss" x="482" y="370" font-size="7.7" text-anchor="start" fill="#111" stroke="#111" stroke-width="0.3">Rap1KD</text>
<text class="ss" x="359.6" y="326" font-size="9.7" text-anchor="start" fill="#111" transform="rotate(-90 359.6 326)" stroke="#111" stroke-width="0.15">Velocity (µm/sec)</text>
<line x1="29.30" y1="499.20" x2="29.30" y2="641.60" stroke="#000" stroke-width="1.5"/>
<line x1="28.55" y1="641.30" x2="208.50" y2="641.30" stroke="#000" stroke-width="1.15"/>
<line x1="29.30" y1="641.60" x2="31.70" y2="641.60" stroke="#000" stroke-width="0.9"/>
<text class="ss" x="24.700000000000003" y="644.7" font-size="6.2" text-anchor="end" fill="#111" stroke="#111" stroke-width="0.3">0</text>
<line x1="29.30" y1="627.40" x2="31.70" y2="627.40" stroke="#000" stroke-width="0.9"/>
<text class="ss" x="24.700000000000003" y="630.5" font-size="6.2" text-anchor="end" fill="#111" stroke="#111" stroke-width="0.3">1</text>
<line x1="29.30" y1="613.20" x2="31.70" y2="613.20" stroke="#000" stroke-width="0.9"/>
<text class="ss" x="24.700000000000003" y="616.3000000000001" font-size="6.2" text-anchor="end" fill="#111" stroke="#111" stroke-width="0.3">2</text>
<line x1="29.30" y1="599.00" x2="31.70" y2="599.00" stroke="#000" stroke-width="0.9"/>
<text class="ss" x="24.700000000000003" y="602.1" font-size="6.2" text-anchor="end" fill="#111" stroke="#111" stroke-width="0.3">3</text>
<line x1="29.30" y1="584.80" x2="31.70" y2="584.80" stroke="#000" stroke-width="0.9"/>
<text class="ss" x="24.700000000000003" y="587.9000000000001" font-size="6.2" text-anchor="end" fill="#111" stroke="#111" stroke-width="0.3">4</text>
<line x1="29.30" y1="570.60" x2="31.70" y2="570.60" stroke="#000" stroke-width="0.9"/>
<text class="ss" x="24.700000000000003" y="573.7" font-size="6.2" text-anchor="end" fill="#111" stroke="#111" stroke-width="0.3">5</text>
<line x1="29.30" y1="556.40" x2="31.70" y2="556.40" stroke="#000" stroke-width="0.9"/>
<text class="ss" x="24.700000000000003" y="559.5000000000001" font-size="6.2" text-anchor="end" fill="#111" stroke="#111" stroke-width="0.3">6</text>
<line x1="29.30" y1="542.20" x2="31.70" y2="542.20" stroke="#000" stroke-width="0.9"/>
<text class="ss" x="24.700000000000003" y="545.3000000000001" font-size="6.2" text-anchor="end" fill="#111" stroke="#111" stroke-width="0.3">7</text>
<line x1="29.30" y1="528.00" x2="31.70" y2="528.00" stroke="#000" stroke-width="0.9"/>
<text class="ss" x="24.700000000000003" y="531.1" font-size="6.2" text-anchor="end" fill="#111" stroke="#111" stroke-width="0.3">8</text>
<line x1="29.30" y1="513.80" x2="31.70" y2="513.80" stroke="#000" stroke-width="0.9"/>
<text class="ss" x="24.700000000000003" y="516.9000000000001" font-size="6.2" text-anchor="end" fill="#111" stroke="#111" stroke-width="0.3">9</text>
<line x1="29.30" y1="499.60" x2="31.70" y2="499.60" stroke="#000" stroke-width="0.9"/>
<text class="ss" x="24.700000000000003" y="502.70000000000005" font-size="6.2" text-anchor="end" fill="#111" stroke="#111" stroke-width="0.3">10</text>
<line x1="72.90" y1="638.60" x2="72.90" y2="641.60" stroke="#000" stroke-width="0.8"/>
<line x1="117.60" y1="638.60" x2="117.60" y2="641.60" stroke="#000" stroke-width="0.8"/>
<line x1="162.30" y1="638.60" x2="162.30" y2="641.60" stroke="#000" stroke-width="0.8"/>
<line x1="207.30" y1="638.60" x2="207.30" y2="641.60" stroke="#000" stroke-width="0.8"/>
<text class="ss" x="11.6" y="498.6" font-size="9.6" text-anchor="start" fill="#111" transform="rotate(90 11.6 498.6)" stroke="#111" stroke-width="0.35">&gt;</text>
<text class="ss" x="10.2" y="594.5" font-size="8.7" text-anchor="start" fill="#111" transform="rotate(-90 10.2 594.5)" stroke="#111" stroke-width="0.3">Stopping times</text>
<rect x="53.40" y="486.30" width="3.8" height="37.00" rx="1.9" fill="#000"/>
<rect x="49.20" y="494.00" width="3.6" height="24.00" rx="1.8" fill="#000"/>
<rect x="57.90" y="494.00" width="3.6" height="24.00" rx="1.8" fill="#000"/>
<rect x="45.90" y="499.70" width="3.6" height="9.80" rx="1.8" fill="#000"/>
<rect x="61.20" y="499.70" width="3.6" height="9.80" rx="1.8" fill="#000"/>
<rect x="50.00" y="497.00" width="11.00" height="18.00" fill="#000" stroke="none" stroke-width="1" opacity="0.55"/>
<circle cx="94.4" cy="538.2" r="2.0" fill="#000"/>
<circle cx="94.4" cy="550.9" r="2.0" fill="#000"/>
<circle cx="94.4" cy="563.3" r="2.0" fill="#000"/>
<circle cx="94.4" cy="587.8" r="2.0" fill="#000"/>
<circle cx="94.4" cy="595.6" r="2.0" fill="#000"/>
<circle cx="94.4" cy="599.3" r="2.0" fill="#000"/>
<circle cx="94.4" cy="606.5" r="2.0" fill="#000"/>
<circle cx="94.4" cy="608.7" r="2.0" fill="#000"/>
<circle cx="94.4" cy="610.9" r="2.0" fill="#000"/>
<circle cx="94.4" cy="612.8" r="2.0" fill="#000"/>
<circle cx="94.4" cy="614.6" r="2.0" fill="#000"/>
<circle cx="94.4" cy="616.6" r="2.0" fill="#000"/>
<circle cx="94.4" cy="618.6" r="2.0" fill="#000"/>
<circle cx="94.4" cy="620.5" r="2.0" fill="#000"/>
<circle cx="94.4" cy="622.4" r="2.0" fill="#000"/>
<circle cx="94.4" cy="624.2" r="2.0" fill="#000"/>
<circle cx="94.4" cy="626.1" r="2.0" fill="#000"/>
<circle cx="94.4" cy="629.8" r="2.0" fill="#000"/>
<line x1="83.60" y1="604.20" x2="105.20" y2="604.20" stroke="#000" stroke-width="1.2"/>
<circle cx="139.8" cy="548" r="2.0" fill="#000"/>
<circle cx="139.8" cy="563.8" r="2.0" fill="#000"/>
<circle cx="139.8" cy="570.5" r="2.0" fill="#000"/>
<circle cx="139.8" cy="574.2" r="2.0" fill="#000"/>
<circle cx="139.8" cy="584.9" r="2.0" fill="#000"/>
<circle cx="139.8" cy="602.2" r="2.0" fill="#000"/>
<circle cx="139.8" cy="605.1" r="2.0" fill="#000"/>
<circle cx="139.8" cy="610.9" r="2.0" fill="#000"/>
<circle cx="139.8" cy="618.9" r="2.0" fill="#000"/>
<circle cx="139.8" cy="623.8" r="2.0" fill="#000"/>
<circle cx="139.8" cy="627.3" r="2.0" fill="#000"/>
<circle cx="139.8" cy="630.2" r="2.0" fill="#000"/>
<line x1="129.70" y1="597.00" x2="150.20" y2="597.00" stroke="#000" stroke-width="1.2"/>
<circle cx="184.8" cy="582.9" r="2.0" fill="#000"/>
<circle cx="184.8" cy="598.7" r="2.0" fill="#000"/>
<circle cx="184.8" cy="609.4" r="2.0" fill="#000"/>
<circle cx="184.8" cy="615.6" r="2.0" fill="#000"/>
<circle cx="184.8" cy="618.2" r="2.0" fill="#000"/>
<circle cx="184.8" cy="620.8" r="2.0" fill="#000"/>
<circle cx="184.8" cy="624.6" r="2.0" fill="#000"/>
<circle cx="184.8" cy="630.3" r="2.0" fill="#000"/>
<circle cx="184.8" cy="633.8" r="2.0" fill="#000"/>
<line x1="174.40" y1="622.70" x2="194.60" y2="622.70" stroke="#000" stroke-width="1.2"/>
<text class="ss" x="195.6" y="619" font-size="7" text-anchor="middle" fill="#333" stroke="#333" stroke-width="0.3">*</text>
<text class="ss" x="47.9" y="655" font-size="8.8" text-anchor="start" fill="#111" stroke="#111" stroke-width="0.3">ct</text>
<text class="ss" x="82.1" y="655" font-size="8.5" text-anchor="start" fill="#111" stroke="#111" stroke-width="0.3">RAPLKD</text>
<text class="ss" x="127.1" y="655" font-size="8.3" text-anchor="start" fill="#111" stroke="#111" stroke-width="0.3">TalinKD</text>
<text class="sf" x="169.5" y="655.8" font-size="9.5" text-anchor="start" fill="#111" stroke="#111" stroke-width="0.18">DoubleKD</text>
<line x1="256.50" y1="512.30" x2="256.50" y2="641.60" stroke="#777" stroke-width="0.9"/>
<line x1="254.70" y1="641.60" x2="256.50" y2="641.60" stroke="#888" stroke-width="0.8"/>
<text class="ss" x="252.3" y="642.5" font-size="4.6" text-anchor="end" fill="#222" stroke="#222" stroke-width="0.3">0</text>
<line x1="254.70" y1="627.28" x2="256.50" y2="627.28" stroke="#888" stroke-width="0.8"/>
<text class="ss" x="252.3" y="628.18" font-size="4.6" text-anchor="end" fill="#222" stroke="#222" stroke-width="0.3">0.2</text>
<line x1="254.70" y1="612.96" x2="256.50" y2="612.96" stroke="#888" stroke-width="0.8"/>
<text class="ss" x="252.3" y="613.86" font-size="4.6" text-anchor="end" fill="#222" stroke="#222" stroke-width="0.3">0.4</text>
<line x1="254.70" y1="598.64" x2="256.50" y2="598.64" stroke="#888" stroke-width="0.8"/>
<text class="ss" x="252.3" y="599.54" font-size="4.6" text-anchor="end" fill="#222" stroke="#222" stroke-width="0.3">0.6</text>
<line x1="254.70" y1="584.32" x2="256.50" y2="584.32" stroke="#888" stroke-width="0.8"/>
<text class="ss" x="252.3" y="585.22" font-size="4.6" text-anchor="end" fill="#222" stroke="#222" stroke-width="0.3">0.8</text>
<line x1="254.70" y1="570.00" x2="256.50" y2="570.00" stroke="#888" stroke-width="0.8"/>
<text class="ss" x="252.3" y="570.9" font-size="4.6" text-anchor="end" fill="#222" stroke="#222" stroke-width="0.3">1</text>
<line x1="254.70" y1="555.68" x2="256.50" y2="555.68" stroke="#888" stroke-width="0.8"/>
<text class="ss" x="252.3" y="556.58" font-size="4.6" text-anchor="end" fill="#222" stroke="#222" stroke-width="0.3">1.2</text>
<line x1="254.70" y1="541.36" x2="256.50" y2="541.36" stroke="#888" stroke-width="0.8"/>
<text class="ss" x="252.3" y="542.26" font-size="4.6" text-anchor="end" fill="#222" stroke="#222" stroke-width="0.3">1.4</text>
<line x1="254.70" y1="527.04" x2="256.50" y2="527.04" stroke="#888" stroke-width="0.8"/>
<text class="ss" x="252.3" y="527.9399999999999" font-size="4.6" text-anchor="end" fill="#222" stroke="#222" stroke-width="0.3">1.6</text>
<line x1="254.70" y1="512.72" x2="256.50" y2="512.72" stroke="#888" stroke-width="0.8"/>
<text class="ss" x="252.3" y="513.62" font-size="4.6" text-anchor="end" fill="#222" stroke="#222" stroke-width="0.3">1.8</text>
<line x1="256.50" y1="641.60" x2="414.80" y2="641.60" stroke="#aaa" stroke-width="0.8"/>
<rect x="264.45" y="570.45" width="11.20" height="71.15" fill="#fff" stroke="#4a4a4a" stroke-width="0.85"/>
<rect x="276.10" y="526.32" width="11.60" height="115.28" fill="#000" stroke="none" stroke-width="1"/>
<rect x="304.55" y="577.61" width="10.70" height="63.99" fill="#fff" stroke="#4a4a4a" stroke-width="0.85"/>
<rect x="315.70" y="527.04" width="11.50" height="114.56" fill="#000" stroke="none" stroke-width="1"/>
<rect x="343.85" y="565.08" width="11.20" height="76.52" fill="#fff" stroke="#4a4a4a" stroke-width="0.85"/>
<rect x="355.50" y="523.46" width="11.50" height="118.14" fill="#000" stroke="none" stroke-width="1"/>
<rect x="384.45" y="599.09" width="9.90" height="42.51" fill="#fff" stroke="#4a4a4a" stroke-width="0.85"/>
<rect x="394.80" y="573.94" width="11.40" height="67.66" fill="#000" stroke="none" stroke-width="1"/>
<text class="ss" x="389.3" y="595.2" font-size="8.5" text-anchor="middle" fill="#444" stroke="#444" stroke-width="0.1">*</text>
<text class="ss" x="272.7" y="652.3" font-size="8.8" text-anchor="start" fill="#111" stroke="#111" stroke-width="0.3">ct</text>
<text class="ss" x="300" y="652.3" font-size="8.7" text-anchor="start" fill="#111" stroke="#111" stroke-width="0.3">Rap1KD</text>
<text class="ss" x="339" y="652.3" font-size="8.6" text-anchor="start" fill="#111" stroke="#111" stroke-width="0.3">RAPLKD</text>
<text class="ss" x="379" y="652.3" font-size="8.5" text-anchor="start" fill="#111" stroke="#111" stroke-width="0.3">TalinKD</text>
<text class="ss" x="238.5" y="637" font-size="7.7" text-anchor="start" fill="#111" transform="rotate(-90 238.5 637)" stroke="#111" stroke-width="0.3">Epitope expression of mAb KIM127</text>
<rect x="432.70" y="529.00" width="7.20" height="7.20" fill="#fff" stroke="#111" stroke-width="0.8"/>
<rect x="432.30" y="539.40" width="7.90" height="7.50" fill="#000" stroke="none" stroke-width="1"/>
<text class="ss" x="442.2" y="535.8" font-size="8.5" text-anchor="start" fill="#111" stroke="#111" stroke-width="0.3">None</text>
<text class="ss" x="442.2" y="546.4" font-size="8.6" text-anchor="start" fill="#111" stroke="#111" stroke-width="0.3">CXCL12</text>
</svg>
</body></html>
